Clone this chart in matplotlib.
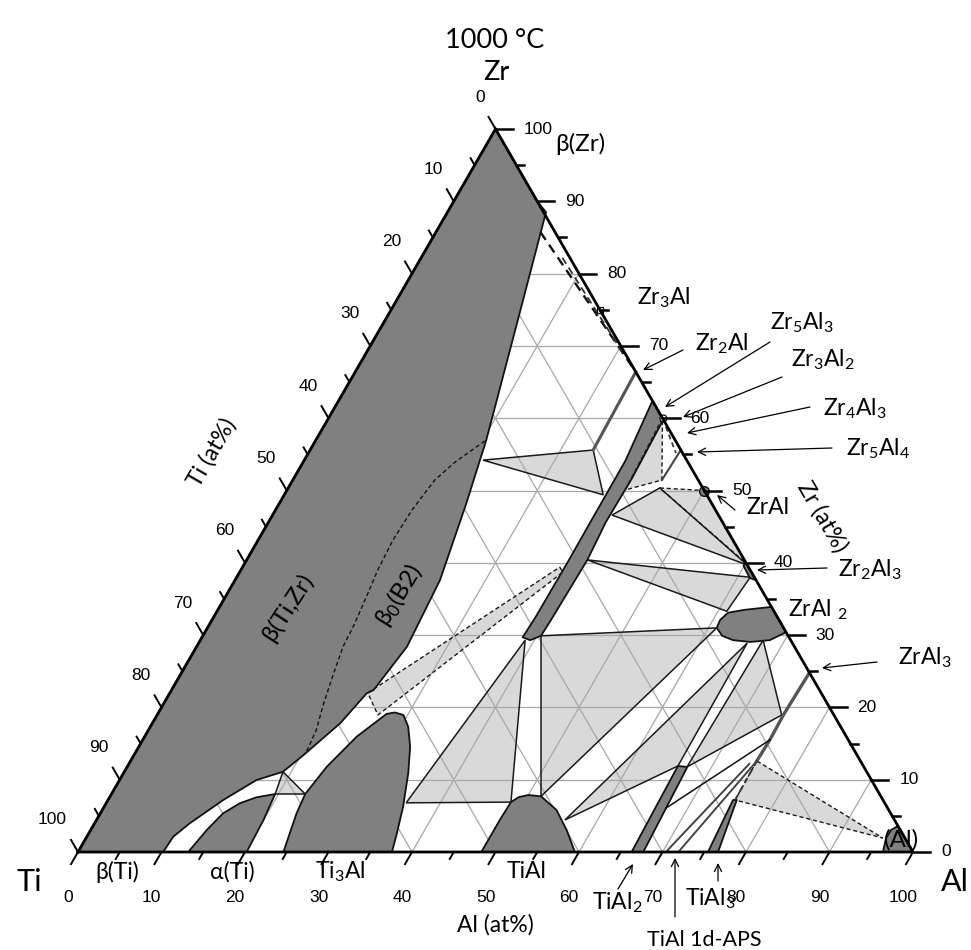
import matplotlib
matplotlib.use("Agg")
import matplotlib.pyplot as plt
from matplotlib.patches import Polygon

plt.rcParams['font.family'] = ['Lato', 'DejaVu Sans']
plt.rcParams['mathtext.fontset'] = 'custom'
plt.rcParams['mathtext.rm'] = 'Lato'
plt.rcParams['mathtext.it'] = 'Lato:italic'
plt.rcParams['mathtext.bf'] = 'Lato:bold'

# ---------------- data: compositions as (Al at%, Zr at%) ----------------
beta_TiZr = [(0, 0), (0, 100), (10, 90), (11.8, 88.5), (16.1, 72.8), (20.4, 57.0),
             (22.4, 48.2), (24.55, 37.6), (25.2, 28.4), (24.2, 22.4),
             (23.6, 21.95), (22.5, 17.8), (20.3, 13.4), (19.0, 11.1), (16.4, 9.96),
             (13.8, 7.19), (11.4, 3.97), (10.35, 2.12), (10.2, 0)]
beta_B2_border = [(20.3, 56.85), (18.2, 53.94), (17.0, 51.45), (16.35, 47.3), (16.15, 43.15),
                  (16.4, 39.0), (16.95, 34.85), (17.35, 31.4), (17.55, 28.35), (18.3, 24.5),
                  (19.2, 20.33), (20.1, 16.87), (20.45, 13.7)]
alpha_Ti = [(13.2, 0), (13.9, 3.04), (14.7, 5.35), (16.0, 6.74), (17.6, 7.57), (19.6, 8.02),
            (20.0, 4.43), (20.2, 0)]
Ti3Al = [(24.6, 0), (23.5, 5.35), (23.2, 8.02), (23.9, 11.8), (25.4, 15.95), (27.4, 19.1),
         (28.3, 19.3), (29.5, 18.95), (30.9, 17.3), (32.5, 14.56), (34.1, 10.9), (35.8, 6.27),
         (36.9, 2.58), (37.6, 0)]
TiAl = [(48.3, 0), (48.3, 2.12), (48.3, 4.43), (48.4, 6.9), (49.0, 7.6), (50.0, 7.88),
        (51.6, 7.7), (54.4, 5.81), (57.0, 3.04), (59.5, 0)]
Zr5Al3_ss = [(37.6, 62.4), (40.2, 59.8), (40.5, 51.7), (40.4, 45.6), (40.8, 40.4), (40.6, 32.1),
             (40.5, 29.9), (39.5, 29.3), (38.4, 29.7), (38.55, 32.4), (38.6, 40.4), (38.55, 45.8),
             (38.5, 54.1)]
ZrAl2 = [(61.0, 31.0), (60.85, 32.1), (61.3, 33.1), (63.1, 33.5), (66.1, 33.9), (69.6, 30.4),
         (68.2, 29.3), (66.0, 29.05), (63.8, 29.3), (62.2, 29.9)]
Zr2Al3 = [(59.9, 40.1), (62.4, 37.6), (61.5, 37.9), (59.9, 39.6)]
TiAl2 = [(66.3, 0), (67.7, 0), (67.1, 11.76), (65.9, 11.9)]
TiAl3 = [(75.45, 0), (76.65, 0), (75.3, 7.19), (74.85, 7.19)]
Al_ss = [(96.4, 0), (95.8, 1.94), (95.85, 3.04), (96.4, 3.6), (100, 0)]

Zr2Al_line = [(33.6, 66.4), (33.9, 55.6)]
Zr5Al4_line = [(44.4, 55.6), (44.2, 51.45)]
Zr4Al3_dashed = [(41.0, 58.8), (44.0, 55.2)]
ZrAl3_line = [(75.2, 24.8), (75.0, 19.0), (75.1, 15.5), (75.0, 12.6)]
ZrAl3_dashed = [(75.0, 12.6), (75.1, 7.19)]
Zr3Al_dash1 = [(12.5, 85.75), (33.6, 66.4)]
Zr3Al_dash2 = [(16.9, 82.2), (31.2, 68.6)]
APS_lines = [[(70.4, 0), (74.3, 12.2)], [(71.9, 0), (75.0, 12.6)]]
tie_TiAl2_ZrAl3 = [(67.4, 6.09), (75.1, 15.5)]

# three-phase triangles (solid outline)
tri_solid = [
    [(19.0, 11.1), (19.6, 8.02), (23.2, 8.02)],
    [(21.4, 54.2), (33.9, 55.6), (38.2, 49.4)],
    [(44.5, 50.35), (40.65, 46.6), (60.3, 39.7)],
    [(40.8, 40.4), (61.5, 38.0), (61.05, 33.3)],
    [(40.5, 29.9), (61.0, 31.0), (51.6, 7.7)],
    [(38.9, 29.3), (35.9, 6.8), (48.4, 6.9)],
    [(56.1, 4.43), (65.9, 11.9), (65.7, 28.9)],
    [(67.05, 11.76), (67.4, 29.3), (74.8, 18.95)],
]
# dashed-outline regions
tri_dashed = [
    [(40.5, 50.07), (40.0, 60.0), (44.2, 51.45)],
    [(44.5, 50.35), (50.0, 50.0), (60.1, 39.9)],
    [(23.7, 22.0), (38.0, 39.4), (38.7, 38.7), (26.45, 18.95)],
    [(75.0, 12.6), (75.1, 7.19), (95.4, 1.94)],
]

ticks = list(range(0, 101, 5))
tick_labels = [str(v) for v in range(0, 101, 10)]

# ---------------- drawing ----------------
fig = plt.figure(figsize=(9.71, 9.50), dpi=100)
ax = fig.add_axes([0, 0, 1, 1])
ax.set_xlim(0, 971)
ax.set_ylim(950, 0)
ax.axis('off')

X0, Y0, SIDE, HGT = 78.0, 852.0, 835.0, 723.0


def xy(al, zr):
    return (X0 + SIDE * (al + zr / 2.0) / 100.0, Y0 - HGT * zr / 100.0)


def pts(seq):
    return [xy(a, z) for a, z in seq]


DARK = '#808080'
LIGHT = '#d9d9d9'
GRID = '#a8a8a8'

for t in tri_solid + tri_dashed:
    ax.add_patch(Polygon(pts(t), closed=True, fc=LIGHT, ec='none', zorder=1))

for k in range(1, 10):
    v = 10 * k
    for seg in ([(v, 0), (v, 100 - v)], [(0, v), (100 - v, v)], [(100 - v, 0), (0, 100 - v)]):
        p = pts(seg)
        ax.plot([p[0][0], p[1][0]], [p[0][1], p[1][1]], color=GRID, lw=0.9, zorder=2)

for t in tri_solid:
    ax.add_patch(Polygon(pts(t), closed=True, fc='none', ec='#1a1a1a', lw=1.1, zorder=4))
for t in tri_dashed:
    ax.add_patch(Polygon(pts(t), closed=True, fc='none', ec='#1a1a1a', lw=1.0,
                         ls=(0, (3, 2)), zorder=4))

for reg in (beta_TiZr, alpha_Ti, Ti3Al, TiAl, Zr5Al3_ss, ZrAl2, Zr2Al3, TiAl2, TiAl3, Al_ss):
    ax.add_patch(Polygon(pts(reg), closed=True, fc=DARK, ec='#111111', lw=1.3, zorder=3,
                         joinstyle='round'))


def line(seq, **kw):
    p = pts(seq)
    ax.plot([q[0] for q in p], [q[1] for q in p], **kw)


line(beta_B2_border, color='#111111', lw=1.0, ls=(0, (3, 2)), zorder=4)
line(Zr2Al_line, color='#555555', lw=2.2, zorder=4)
line(Zr5Al4_line, color='#444444', lw=1.5, zorder=4)
line(Zr4Al3_dashed, color='#333333', lw=1.2, ls=(0, (3, 2)), zorder=4)
line(ZrAl3_line, color='#555555', lw=2.4, zorder=4)
line(ZrAl3_dashed, color='#333333', lw=1.4, ls=(0, (3, 2)), zorder=4)
line(Zr3Al_dash1, color='#111111', lw=1.7, ls=(0, (4, 2.5)), zorder=4)
line(Zr3Al_dash2, color='#333333', lw=1.3, ls=(0, (4, 2.5)), zorder=4)
for s in APS_lines:
    line(s, color='#444444', lw=1.4, zorder=4)
line(tie_TiAl2_ZrAl3, color='#111111', lw=1.1, zorder=4)

zx, zy = xy(50, 50)
ax.plot([zx], [zy], 'o', ms=7, mfc=DARK, mec='#111111', mew=1.0, zorder=5)
sx, sy = xy(25, 75)
ax.plot([sx], [sy], 's', ms=5, mfc='white', mec='#111111', mew=0.9, zorder=5)
cx, cy = xy(40, 60)
ax.plot([cx], [cy], 'o', ms=5, mfc='white', mec='#111111', mew=0.9, zorder=5)

tri = pts([(0, 0), (100, 0), (0, 100), (0, 0)])
ax.plot([q[0] for q in tri], [q[1] for q in tri], color='black', lw=2.0, zorder=6,
        solid_joinstyle='miter')

for v in ticks:
    L = 14 if v % 10 == 0 else 8
    x, y = xy(v, 0)
    ax.plot([x, x - 0.5 * L], [y, y + 0.866 * L], color='black', lw=1.4, zorder=6)
    x, y = xy(0, 100 - v)
    ax.plot([x, x - 0.5 * L], [y, y - 0.866 * L], color='black', lw=1.4, zorder=6)
    L2 = 17 if v % 10 == 0 else 8
    x, y = xy(100 - v, v)
    ax.plot([x, x + L2], [y, y], color='black', lw=1.8, zorder=6)

NUMFONT = ['Liberation Sans', 'DejaVu Sans']
NS = 12.5
for i, lab in enumerate(tick_labels):
    v = 10 * i
    x, y = xy(v, 0)
    ax.text(x - 10, 897, lab, ha='center', va='center', fontsize=NS, family=NUMFONT)
    x, y = xy(0, 100 - v)
    ax.text(x - 11, y - 32, lab, ha='right', va='center', fontsize=NS, family=NUMFONT)
    x, y = xy(100 - v, v)
    ax.text(x + 28, y, lab, ha='left', va='center', fontsize=NS, family=NUMFONT)

ax.text(495, 40, '1000 °C', ha='center', va='center', fontsize=19.5)
ax.text(496, 72, 'Zr', ha='center', va='center', fontsize=19.5)
ax.text(29, 882, 'Ti', ha='center', va='center', fontsize=22)
ax.text(955, 882, 'Al', ha='center', va='center', fontsize=22)
ax.text(495, 925, 'Al (at%)', ha='center', va='center', fontsize=16.5)
ax.text(212, 452, 'Ti (at%)', ha='center', va='center', fontsize=16.5, rotation=60)
ax.text(822, 517, 'Zr (at%)', ha='center', va='center', fontsize=16.5, rotation=-60)

LF = 16.5
ax.text(580, 144, 'β(Zr)', ha='center', va='center', fontsize=LF + 1)
ax.text(664, 298, 'Zr$_3$Al', ha='center', va='center', fontsize=LF)
ax.text(722, 344, 'Zr$_2$Al', ha='center', va='center', fontsize=LF)
ax.text(802, 323, 'Zr$_5$Al$_3$', ha='center', va='center', fontsize=LF)
ax.text(823, 360, 'Zr$_3$Al$_2$', ha='center', va='center', fontsize=LF)
ax.text(855, 409, 'Zr$_4$Al$_3$', ha='center', va='center', fontsize=LF)
ax.text(878, 449, 'Zr$_5$Al$_4$', ha='center', va='center', fontsize=LF)
ax.text(768, 507, 'ZrAl', ha='center', va='center', fontsize=LF)
ax.text(870, 570, 'Zr$_2$Al$_3$', ha='center', va='center', fontsize=LF)
ax.text(818, 610, 'ZrAl $_2$', ha='center', va='center', fontsize=LF)
ax.text(925, 658, 'ZrAl$_3$', ha='center', va='center', fontsize=LF)
ax.text(288, 607, 'β(Ti,Zr)', ha='center', va='center', fontsize=LF + 1, rotation=57)
ax.text(399, 595, 'β$_0$(B2)', ha='center', va='center', fontsize=LF + 1, rotation=58)
ax.text(901, 840, '(Al)', ha='center', va='center', fontsize=LF + 1, zorder=7)
ax.text(117, 872, 'β(Ti)', ha='center', va='center', fontsize=LF)
ax.text(232, 872, 'α(Ti)', ha='center', va='center', fontsize=LF)
ax.text(340, 872, 'Ti$_3$Al', ha='center', va='center', fontsize=LF)
ax.text(527, 872, 'TiAl', ha='center', va='center', fontsize=LF)
ax.text(617, 903, 'TiAl$_2$', ha='center', va='center', fontsize=LF)
ax.text(710, 899, 'TiAl$_3$', ha='center', va='center', fontsize=LF)
ax.text(704, 940, 'TiAl 1d-APS', ha='center', va='center', fontsize=LF - 1)

arrows = [((683, 350), (643, 370)), ((770, 342), (665, 407)), ((782, 377), (683, 417)),
          ((810, 407), (687, 433)), ((832, 448), (697, 452)), ((735, 510), (717, 495)),
          ((827, 568), (757, 570)), ((877, 662), (822, 668)), ((618, 889), (633, 864)),
          ((675, 917), (675, 858)), ((718, 881), (718, 863))]
for tail, head in arrows:
    ax.annotate('', xy=head, xytext=tail,
                arrowprops=dict(arrowstyle='->', lw=0.9, color='black',
                                mutation_scale=13, shrinkA=0, shrinkB=0), zorder=7)

fig.savefig('out.png', dpi=100)
